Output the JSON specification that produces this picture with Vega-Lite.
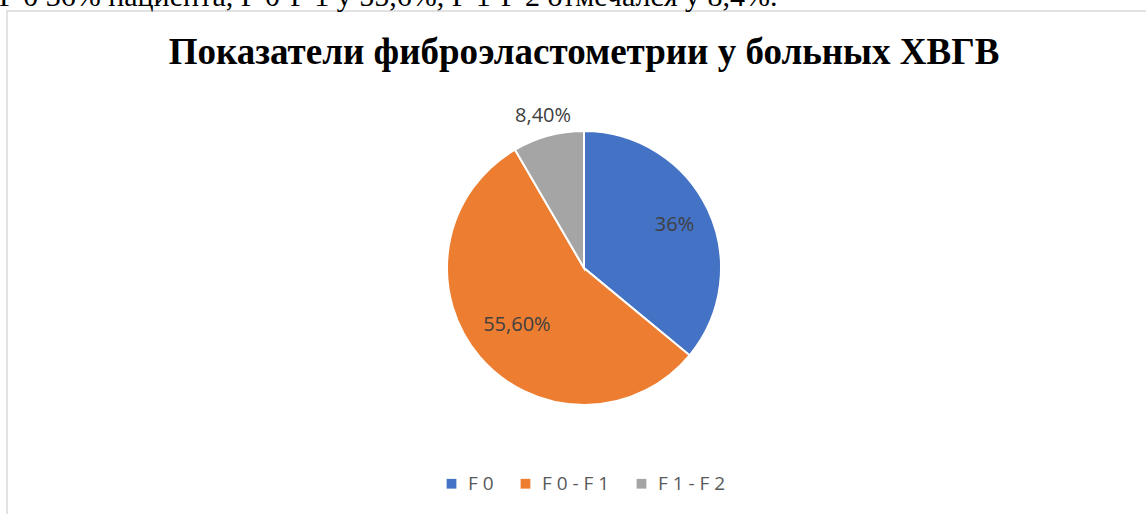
{
  "$schema": "https://vega.github.io/schema/vega-lite/v6.json",
  "width": 1154,
  "height": 514,
  "autosize": {"type": "none"},
  "padding": {"left": 7, "top": 11, "right": -15, "bottom": -11},
  "background": "white",
  "config": {
    "view": {"stroke": "#d9d9d9", "strokeWidth": 1.5},
    "legend": {"layout": {"bottom": {"anchor": "middle"}}}
  },
  "data": {
    "values": [
      {"category": "F 0", "value": 36, "label": "36%"},
      {"category": "F 0 - F 1", "value": 55.6, "label": "55,60%"},
      {"category": "F 1 - F 2", "value": 8.4, "label": "8,40%"}
    ]
  },
  "layer": [
    {
      "mark": {"type": "arc", "outerRadius": 137, "stroke": "white", "strokeWidth": 2},
      "encoding": {
        "theta": {"field": "value", "type": "quantitative", "stack": true},
        "color": {
          "field": "category",
          "type": "nominal",
          "scale": {"domain": ["F 0", "F 0 - F 1", "F 1 - F 2"], "range": ["#4472C4", "#ED7D31", "#A5A5A5"]},
          "legend": {
            "title": null,
            "orient": "bottom",
            "direction": "horizontal",
            "offset": -51,
            "symbolType": "square",
            "symbolSize": 95,
            "symbolStrokeWidth": 0,
            "labelFont": "Open Sans",
            "labelFontSize": 19,
            "labelColor": "#595959",
            "labelOffset": 7,
            "columnPadding": 22
          }
        }
      }
    },
    {
      "mark": {"type": "text", "radius": 100, "font": "Open Sans", "fontSize": 20, "color": "#404040"},
      "encoding": {
        "theta": {"field": "value", "type": "quantitative", "stack": true},
        "detail": {"field": "category", "type": "nominal"},
        "text": {"condition": {"test": "datum.category === 'F 0'", "field": "label"}, "value": ""}
      }
    },
    {
      "mark": {"type": "text", "radius": 88, "font": "Open Sans", "fontSize": 20, "color": "#404040"},
      "encoding": {
        "theta": {"field": "value", "type": "quantitative", "stack": true},
        "detail": {"field": "category", "type": "nominal"},
        "text": {"condition": {"test": "datum.category === 'F 0 - F 1'", "field": "label"}, "value": ""}
      }
    },
    {
      "mark": {"type": "text", "radius": 157, "font": "Open Sans", "fontSize": 20, "color": "#404040"},
      "encoding": {
        "theta": {"field": "value", "type": "quantitative", "stack": true},
        "detail": {"field": "category", "type": "nominal"},
        "text": {"condition": {"test": "datum.category === 'F 1 - F 2'", "field": "label"}, "value": ""}
      }
    },
    {
      "data": {"values": [{"heading": "Показатели фиброэластометрии у больных ХВГВ"}]},
      "mark": {"type": "text", "align": "center", "baseline": "alphabetic", "font": "Liberation Serif", "fontSize": 37, "fontWeight": "bold", "color": "#000000", "dy": 53},
      "encoding": {
        "x": {"datum": 0.5, "type": "quantitative", "scale": {"domain": [0, 1]}, "axis": null},
        "y": {"datum": 1, "type": "quantitative", "scale": {"domain": [0, 1]}, "axis": null},
        "text": {"field": "heading"}
      }
    },
    {
      "data": {"values": [{"note": "F 0 36% пациента, F 0-F 1 у 55,6%, F 1-F 2 отмечался у 8,4%."}]},
      "mark": {"type": "text", "align": "left", "baseline": "alphabetic", "font": "Liberation Serif", "fontSize": 30, "color": "#000000", "dx": -8, "dy": -5},
      "encoding": {
        "x": {"datum": 0, "type": "quantitative", "scale": {"domain": [0, 1]}, "axis": null},
        "y": {"datum": 1, "type": "quantitative", "scale": {"domain": [0, 1]}, "axis": null},
        "text": {"field": "note"}
      }
    }
  ]
}
